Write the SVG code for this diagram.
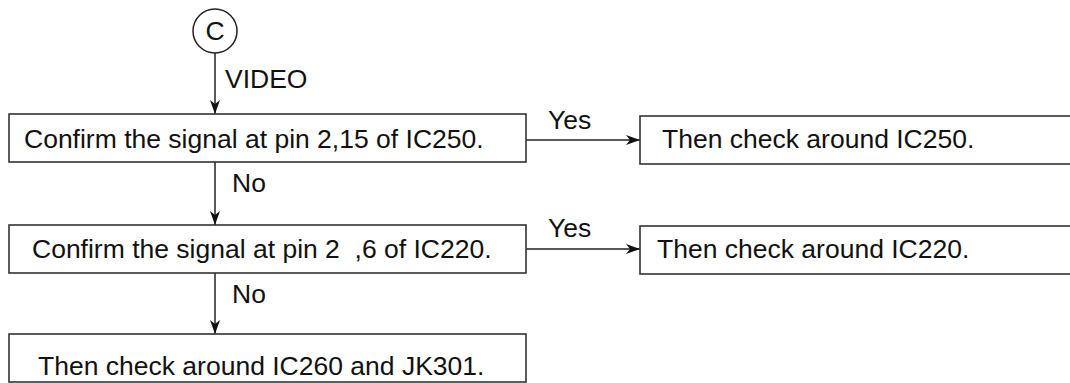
<svg xmlns="http://www.w3.org/2000/svg" width="1070" height="383" viewBox="0 0 1070 383">
<style>
.box{fill:#fff;stroke:#333;stroke-width:1.6}
.ln{fill:none;stroke:#222;stroke-width:1.5}
text{font-family:"Liberation Sans",Arial,sans-serif;font-size:26.5px;fill:#111}
</style>
<defs>
<marker id="ah" viewBox="0 0 14 10" refX="14" refY="5" markerWidth="14" markerHeight="10" markerUnits="userSpaceOnUse" orient="auto">
<path d="M0,0 L14,5 L0,10 L4,5 Z" fill="#111"/>
</marker>
</defs>
<rect width="1070" height="383" fill="#fff"/>
<g id="connectors">
<line class="ln" x1="215" y1="53" x2="215" y2="114" marker-end="url(#ah)"/>
<line class="ln" x1="215" y1="162" x2="215" y2="225" marker-end="url(#ah)"/>
<line class="ln" x1="215" y1="273" x2="215" y2="334" marker-end="url(#ah)"/>
<line class="ln" x1="526" y1="140" x2="640" y2="140" marker-end="url(#ah)"/>
<line class="ln" x1="526" y1="249" x2="640" y2="249" marker-end="url(#ah)"/>
<text x="225" y="88">VIDEO</text>
<text x="232" y="192">No</text>
<text x="232" y="303">No</text>
<text x="548" y="129">Yes</text>
<text x="548" y="237">Yes</text>
</g>
<g id="start">
<circle cx="215" cy="31" r="22" fill="#fff" stroke="#222" stroke-width="1.5"/>
<text x="215" y="40" text-anchor="middle">C</text>
</g>
<g id="check1">
<rect class="box" x="9" y="114" width="517" height="48"/>
<text x="24" y="148">Confirm the signal at pin 2,15 of IC250.</text>
</g>
<g id="result1">
<rect class="box" x="640" y="116" width="460" height="48"/>
<text x="662" y="148">Then check around IC250.</text>
</g>
<g id="check2">
<rect class="box" x="9" y="225" width="517" height="48"/>
<text x="32" y="258" xml:space="preserve">Confirm the signal at pin 2  ,6 of IC220.</text>
</g>
<g id="result2">
<rect class="box" x="640" y="226" width="460" height="48"/>
<text x="657" y="258">Then check around IC220.</text>
</g>
<g id="result3">
<rect class="box" x="9" y="334" width="517" height="48"/>
<text x="38" y="375">Then check around IC260 and JK301.</text>
</g>
</svg>
